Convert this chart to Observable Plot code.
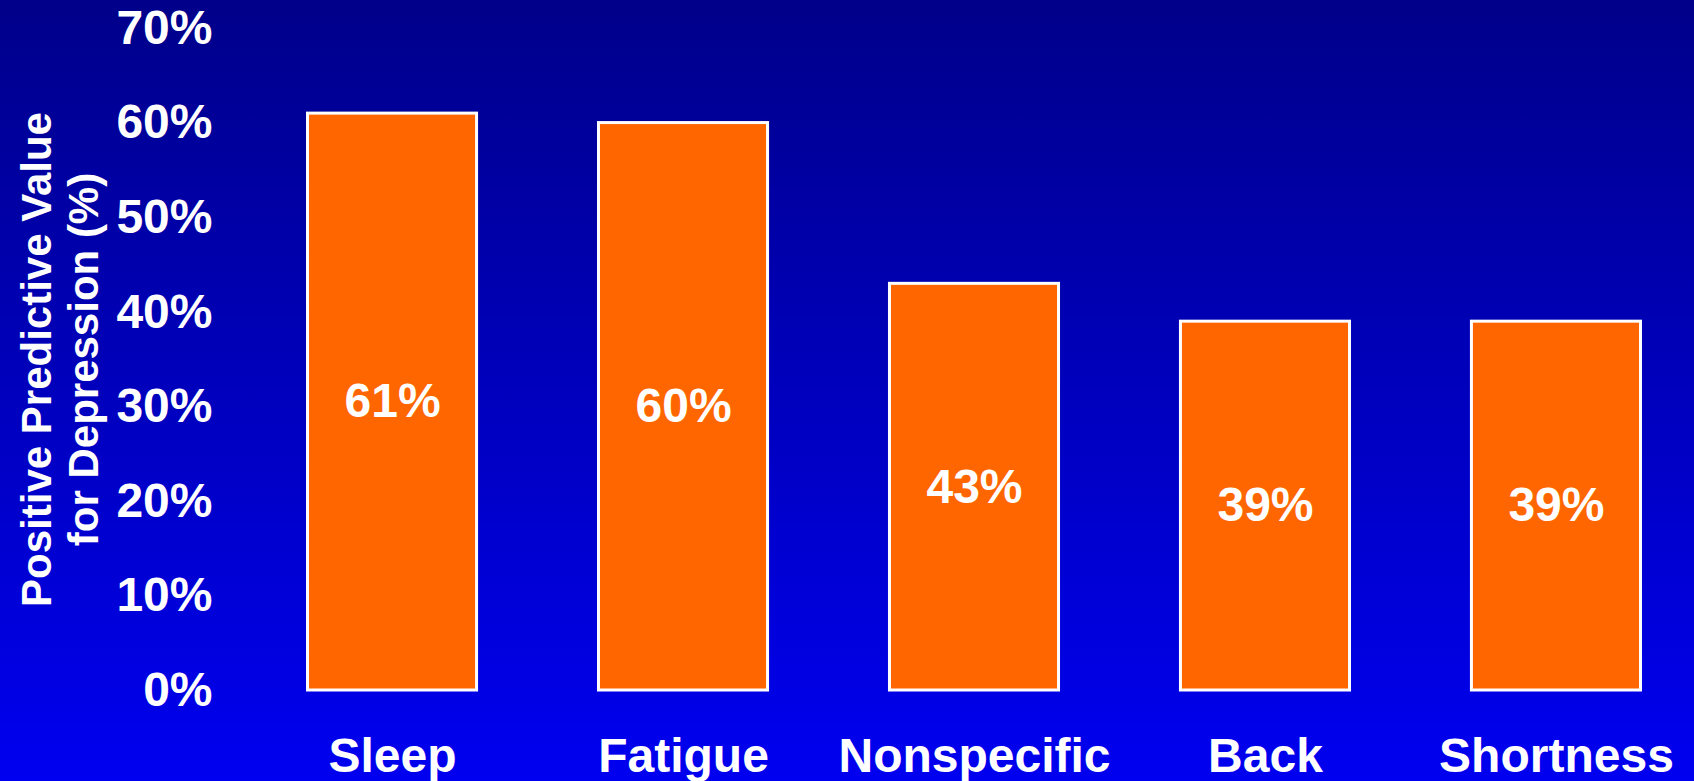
<!DOCTYPE html>
<html>
<head>
<meta charset="utf-8">
<script src="https://cdn.jsdelivr.net/npm/d3@7"></script>
<script src="https://cdn.jsdelivr.net/npm/@observablehq/plot@0.6"></script>
<style>
  html, body { margin: 0; padding: 0; overflow: hidden; }
  body { background: linear-gradient(to bottom, #00008a, #0000f0); }
  svg { display: block; }
</style>
</head>
<body>
<div id="chart"></div>
<script>
// Symptoms and their positive predictive value for depression (%)
const symptoms = ["Sleep", "Fatigue", "Nonspecific", "Back", "Shortness"];
const ppv = [61, 60, 43, 39, 39];
const yTicks = [0, 10, 20, 30, 40, 50, 60, 70];
const yTitle = "Positive Predictive Value\nfor Depression (%)";

const data = symptoms.map((s, i) => ({symptom: s, value: ppv[i]}));

const font = "Arial, 'Liberation Sans', Helvetica, sans-serif";

const chart = Plot.plot({
  width: 1694,
  height: 781,
  marginTop: 28,
  marginBottom: 91,
  marginLeft: 279,
  marginRight: 25,
  style: {
    background: "linear-gradient(to bottom, #00008a, #0000f0)",
    color: "white",
    fontFamily: font,
    fontWeight: "bold",
    overflow: "visible"
  },
  x: {domain: symptoms, paddingInner: 0.419, paddingOuter: 0.098, round: false, axis: null},
  y: {domain: [0, 70], axis: null},
  marks: [
    Plot.barY(data, {x: "symptom", y: "value", fill: "#ff6600", stroke: "white", strokeWidth: 3}),
    Plot.text(data, {
      x: "symptom",
      y: d => d.value / 2,
      text: d => d.value + "%",
      fill: "white",
      fontSize: 48,
      fontWeight: "bold"
    }),
    Plot.axisX({tickSize: 0, tickPadding: 47, fontSize: 48, fontWeight: "bold", label: null}),
    Plot.axisY({ticks: yTicks, tickFormat: d => d + "%", tickSize: 0, tickPadding: 67, fontSize: 48, fontWeight: "bold", label: null}),
    // two-line rotated y-axis title, centred on the plot frame
    Plot.text([yTitle], {
      frameAnchor: "left",
      textAnchor: "middle",
      lineAnchor: "middle",
      rotate: -90,
      dx: -220,
      fontSize: 42,
      lineHeight: 1.12,
      fontWeight: "bold",
      fill: "white"
    })
  ]
});

document.getElementById("chart").appendChild(chart);
</script>
</body>
</html>
